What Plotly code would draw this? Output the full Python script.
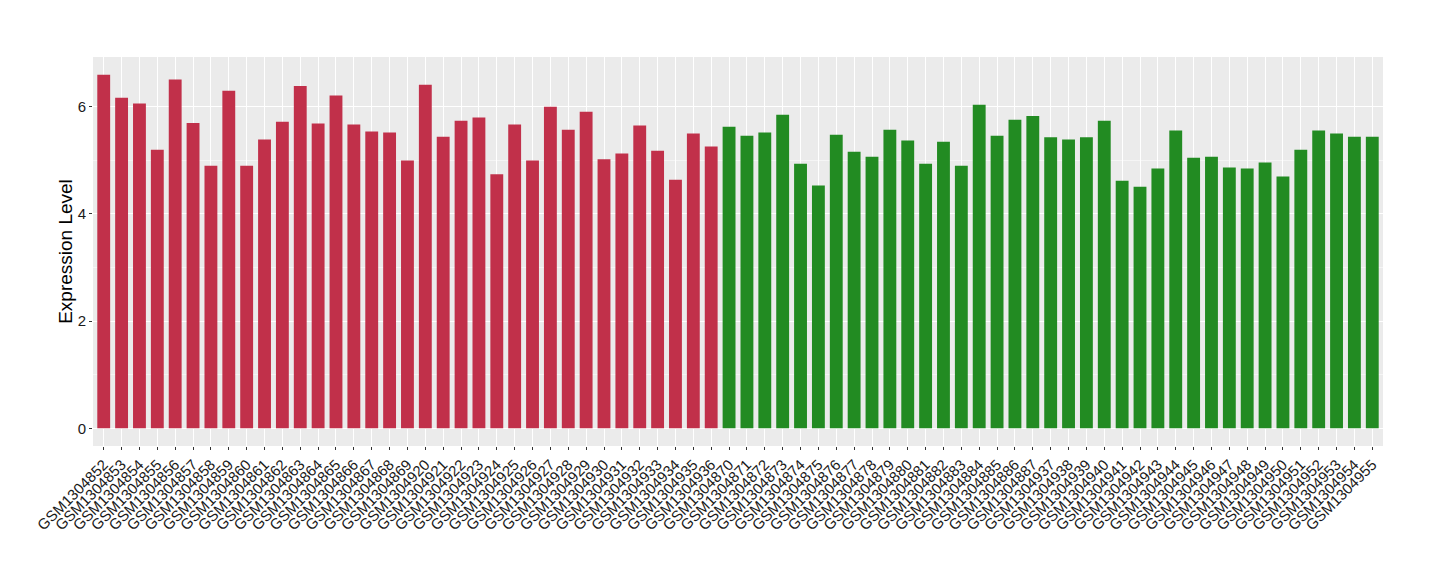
import plotly.graph_objects as go

# sample groups and expression values
red_samples = ['GSM1304852', 'GSM1304853', 'GSM1304854', 'GSM1304855', 'GSM1304856', 'GSM1304857',
               'GSM1304858', 'GSM1304859', 'GSM1304860', 'GSM1304861', 'GSM1304862', 'GSM1304863',
               'GSM1304864', 'GSM1304865', 'GSM1304866', 'GSM1304867', 'GSM1304868', 'GSM1304869',
               'GSM1304920', 'GSM1304921', 'GSM1304922', 'GSM1304923', 'GSM1304924', 'GSM1304925',
               'GSM1304926', 'GSM1304927', 'GSM1304928', 'GSM1304929', 'GSM1304930', 'GSM1304931',
               'GSM1304932', 'GSM1304933', 'GSM1304934', 'GSM1304935', 'GSM1304936']
red_values = [6.60, 6.17, 6.06, 5.20, 6.51, 5.70, 4.90, 6.30, 4.90, 5.39, 5.72, 6.39,
              5.69, 6.21, 5.67, 5.54, 5.52, 5.00, 6.41, 5.44, 5.74, 5.80, 4.74, 5.67,
              5.00, 6.00, 5.57, 5.91, 5.02, 5.13, 5.65, 5.18, 4.64, 5.50, 5.26]

green_samples = ['GSM1304870', 'GSM1304871', 'GSM1304872', 'GSM1304873', 'GSM1304874', 'GSM1304875',
                 'GSM1304876', 'GSM1304877', 'GSM1304878', 'GSM1304879', 'GSM1304880', 'GSM1304881',
                 'GSM1304882', 'GSM1304883', 'GSM1304884', 'GSM1304885', 'GSM1304886', 'GSM1304887',
                 'GSM1304937', 'GSM1304938', 'GSM1304939', 'GSM1304940', 'GSM1304941', 'GSM1304942',
                 'GSM1304943', 'GSM1304944', 'GSM1304945', 'GSM1304946', 'GSM1304947', 'GSM1304948',
                 'GSM1304949', 'GSM1304950', 'GSM1304951', 'GSM1304952', 'GSM1304953', 'GSM1304954',
                 'GSM1304955']
green_values = [5.63, 5.46, 5.52, 5.85, 4.94, 4.53, 5.48, 5.16, 5.07, 5.57, 5.37, 4.94,
                5.35, 4.90, 6.04, 5.46, 5.76, 5.83, 5.43, 5.39, 5.43, 5.74, 4.62, 4.51,
                4.85, 5.56, 5.05, 5.07, 4.87, 4.85, 4.96, 4.70, 5.20, 5.56, 5.50, 5.44,
                5.44]

n_bars = len(red_samples) + len(green_samples)

fig = go.Figure()
fig.add_trace(go.Bar(x=red_samples, y=red_values, marker_color='#C1304A',
                     marker_line_width=0, width=0.72, showlegend=False))
fig.add_trace(go.Bar(x=green_samples, y=green_values, marker_color='#228B22',
                     marker_line_width=0, width=0.72, showlegend=False))

axis_font = dict(family='Liberation Sans, Arial, sans-serif', size=15, color='#1A1A1A')

# the html body adds an 8px offset, margins are set to compensate
fig.update_layout(
    width=1440, height=580,
    margin=dict(l=85, r=65, t=49, b=142),
    paper_bgcolor='white',
    plot_bgcolor='#EBEBEB',
    barmode='overlay',
    font=dict(family='Liberation Sans, Arial, sans-serif'),
    xaxis=dict(
        type='category',
        automargin=False,
        range=[-0.6, n_bars - 1 + 0.6],
        tickmode='linear', tick0=0, dtick=1,
        tickangle=-45,
        tickfont=axis_font,
        showgrid=True, gridcolor='white', gridwidth=1,
        ticks='outside', ticklen=3, tickcolor='#333333',
        showline=False, zeroline=False,
    ),
    yaxis=dict(
        automargin=False,
        range=[-0.33, 6.93],
        tick0=0, dtick=2,
        tickfont=axis_font,
        title=dict(text='Expression Level', font=dict(size=19, color='black'), standoff=0),
        showgrid=True, gridcolor='white', gridwidth=1.2,
        minor=dict(dtick=1, showgrid=True, gridcolor='#F5F5F5', gridwidth=0.6),
        ticks='outside', ticklen=3, tickcolor='#333333',
        showline=False, zeroline=False,
    ),
)

fig.write_html("out.html")
